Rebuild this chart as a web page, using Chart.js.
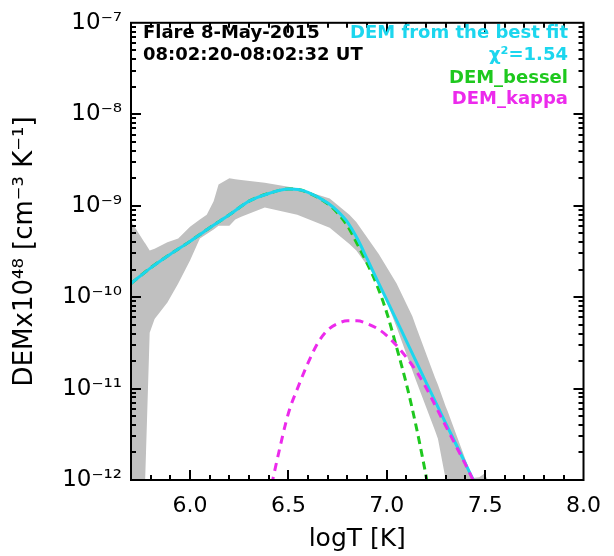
<!DOCTYPE html>
<html>
<head>
<meta charset="utf-8">
<script src="https://cdn.jsdelivr.net/npm/chart.js@4.4.1/dist/chart.umd.min.js"></script>
<style>
  html, body { margin: 0; padding: 0; background: #fff; }
</style>
</head>
<body>
<canvas id="demChart" width="614" height="556"></canvas>
<script>
// DEM x10^48 [cm^-3 K^-1] against logT [K]

// uncertainty band of the fit
const bandLogT = [5.7, 5.768, 5.772, 5.795, 5.82, 5.885, 5.94, 6.0, 6.05, 6.085, 6.12, 6.145,
  6.2, 6.23, 6.26, 6.38, 6.545, 6.71, 6.81, 6.845, 6.96, 7.05, 7.13, 7.15, 7.245, 7.26,
  7.3, 7.31, 7.37, 7.435, 7.47, 7.495, 7.53];
const bandUpper = [6.76e-10, 3.98e-10, 3.89e-10, 3.24e-10, 3.39e-10, 3.98e-10, 4.37e-10, 5.89e-10,
  7.08e-10, 7.94e-10, 1.12e-9, 1.70e-9, 2.00e-9, 1.95e-9, 1.91e-9, 1.78e-9, 1.55e-9, 1.20e-9,
  7.94e-10, 6.61e-10, 2.95e-10, 1.41e-10, 6.17e-11, 4.68e-11, 1.32e-11, 1.10e-11, 6.31e-12,
  5.62e-12, 2.51e-12, 1.05e-12, 1.07e-12, 1.17e-12, 8.9e-13];
const bandLower = [3.16e-13, 3.16e-13, 1.0e-12, 4.07e-11, 5.75e-11, 8.71e-11, 1.41e-10, 2.51e-10,
  4.37e-10, 4.90e-10, 5.50e-10, 6.03e-10, 6.03e-10, 7.08e-10, 7.59e-10, 9.55e-10, 7.94e-10,
  5.75e-10, 3.80e-10, 3.24e-10, 1.48e-10, 4.68e-11, 1.58e-11, 1.20e-11, 3.47e-12, 2.82e-12,
  1.0e-12, 3.16e-13, 3.16e-13, 3.16e-13, 3.16e-13, 3.16e-13, 3.16e-13];

// best fit
const fitLogT = [5.7, 5.8, 5.9, 6.0, 6.1, 6.2, 6.3, 6.4, 6.5, 6.55, 6.6, 6.7, 6.75, 6.8, 6.85,
  6.9, 6.95, 7.0, 7.1, 7.2, 7.3, 7.4, 7.44];
const fitDem = [1.41e-10, 2.09e-10, 2.95e-10, 4.07e-10, 5.75e-10, 7.94e-10, 1.12e-9, 1.36e-9,
  1.52e-9, 1.50e-9, 1.40e-9, 1.07e-9, 8.71e-10, 6.61e-10, 4.37e-10, 2.63e-10, 1.55e-10,
  9.33e-11, 3.31e-11, 1.17e-11, 4.17e-12, 1.51e-12, 1.0e-12];

// bessel component
const besselLogT = [5.7, 5.8, 5.9, 6.0, 6.1, 6.2, 6.3, 6.4, 6.5, 6.55, 6.6, 6.7, 6.75, 6.8,
  6.85, 6.9, 6.95, 7.0, 7.05, 7.1, 7.15, 7.2, 7.22];
const besselDem = [1.41e-10, 2.09e-10, 2.95e-10, 4.07e-10, 5.75e-10, 7.94e-10, 1.12e-9, 1.36e-9,
  1.52e-9, 1.50e-9, 1.39e-9, 1.05e-9, 8.32e-10, 6.03e-10, 3.80e-10, 2.34e-10, 1.35e-10,
  6.76e-11, 2.82e-11, 1.12e-11, 3.80e-12, 1.10e-12, 6.3e-13];

// kappa component
const kappaLogT = [6.40, 6.45, 6.5, 6.55, 6.6, 6.65, 6.7, 6.75, 6.8, 6.85, 6.9, 6.95, 7.0,
  7.05, 7.1, 7.15, 7.2, 7.25, 7.3, 7.35, 7.4, 7.45];
const kappaDem = [6.3e-13, 1.95e-12, 5.37e-12, 1.05e-11, 1.91e-11, 3.16e-11, 4.37e-11, 5.13e-11,
  5.50e-11, 5.50e-11, 5.13e-11, 4.57e-11, 3.80e-11, 2.95e-11, 2.19e-11, 1.55e-11, 1.02e-11,
  6.31e-12, 3.89e-12, 2.40e-12, 1.48e-12, 8.9e-13];

const xTickValues = [6.0, 6.5, 7.0, 7.5, 8.0];
const xTickLabels = ['6.0', '6.5', '7.0', '7.5', '8.0'];
const yTickValues = [1e-12, 1e-11, 1e-10, 1e-9, 1e-8, 1e-7];
const yTickLabels = ['10⁻¹²', '10⁻¹¹', '10⁻¹⁰', '10⁻⁹', '10⁻⁸', '10⁻⁷'];

const headerLines = ['Flare 8-May-2015', '08:02:20-08:02:32 UT'];
const legendLines = ['DEM from the best fit', 'χ²=1.54', 'DEM_bessel', 'DEM_kappa'];

const CYAN = '#1cd6ee';
const GREEN = '#1ec81e';
const MAGENTA = '#ec2aec';
const GRAY = '#c0c0c0';

const toPoints = (xs, ys) => xs.map((x, i) => ({x: x, y: ys[i]}));

// box around the plot with inward ticks on all four sides
const frameTicks = {
  id: 'frameTicks',
  afterDatasetsDraw(chart) {
    const {ctx, chartArea: a, scales: {x, y}} = chart;
    ctx.save();
    ctx.strokeStyle = '#000';
    ctx.lineWidth = 2;
    ctx.beginPath();
    for (let i = 58; i <= 79; i++) {
      const px = Math.round(x.getPixelForValue(i / 10));
      const len = i % 5 === 0 ? 10 : 5;
      ctx.moveTo(px, a.bottom); ctx.lineTo(px, a.bottom - len);
      ctx.moveTo(px, a.top); ctx.lineTo(px, a.top + len);
    }
    for (let e = -12; e < -7; e++) {
      for (let m = 1; m <= 9; m++) {
        const py = Math.round(y.getPixelForValue(m * Math.pow(10, e)));
        const len = m === 1 ? 10 : 5;
        ctx.moveTo(a.left, py); ctx.lineTo(a.left + len, py);
        ctx.moveTo(a.right, py); ctx.lineTo(a.right - len, py);
      }
    }
    ctx.stroke();
    ctx.strokeRect(a.left, a.top, a.right - a.left, a.bottom - a.top);
    ctx.restore();
  }
};

// flare info on the left, coloured curve names on the right
const notes = {
  id: 'notes',
  afterDraw(chart) {
    const ctx = chart.ctx;
    ctx.save();
    ctx.font = 'bold 18px "DejaVu Sans"';
    ctx.textBaseline = 'alphabetic';
    ctx.fillStyle = '#000';
    ctx.textAlign = 'left';
    ctx.fillText(headerLines[0], 143, 38);
    ctx.fillText(headerLines[1], 143, 60);
    ctx.textAlign = 'right';
    const colors = [CYAN, CYAN, GREEN, MAGENTA];
    const rows = [38, 60, 83, 104];
    legendLines.forEach((t, i) => {
      ctx.fillStyle = colors[i];
      ctx.fillText(t, 568, rows[i]);
    });
    ctx.restore();
  }
};

new Chart(document.getElementById('demChart'), {
  type: 'line',
  data: {
    datasets: [
      {
        data: toPoints(bandLogT, bandUpper),
        fill: '+1', backgroundColor: GRAY, borderWidth: 0, pointRadius: 0, order: 3
      },
      {
        data: toPoints(bandLogT, bandLower),
        fill: false, borderWidth: 0, pointRadius: 0, order: 4
      },
      {
        label: 'DEM_bessel',
        data: toPoints(besselLogT, besselDem),
        borderColor: GREEN, borderWidth: 3, borderDash: [8, 5], pointRadius: 0,
        fill: false, cubicInterpolationMode: 'monotone', order: 2
      },
      {
        label: 'DEM from the best fit',
        data: toPoints(fitLogT, fitDem),
        borderColor: CYAN, borderWidth: 3, pointRadius: 0,
        fill: false, cubicInterpolationMode: 'monotone', order: 1
      },
      {
        label: 'DEM_kappa',
        data: toPoints(kappaLogT, kappaDem),
        borderColor: MAGENTA, borderWidth: 3, borderDash: [8, 6], pointRadius: 0,
        fill: false, cubicInterpolationMode: 'monotone', order: 0
      }
    ]
  },
  options: {
    responsive: false,
    animation: false,
    events: [],
    layout: {padding: {left: 0, top: 15, right: 23, bottom: 0}},
    plugins: {legend: {display: false}, tooltip: {enabled: false}},
    scales: {
      x: {
        type: 'linear', min: 5.7, max: 8.0,
        grid: {display: false, drawTicks: false},
        border: {display: false},
        afterBuildTicks: s => { s.ticks = xTickValues.map(v => ({value: v})); },
        afterFit: s => { s.height = 76; },
        ticks: {
          autoSkip: false, maxRotation: 0, padding: 13, color: '#000',
          font: {family: 'DejaVu Sans', size: 22},
          callback: (v, i) => xTickLabels[i]
        },
        title: {
          display: true, text: 'logT [K]', color: '#000',
          font: {family: 'DejaVu Sans', size: 25},
          padding: {top: 0, bottom: 2}
        }
      },
      y: {
        type: 'logarithmic', min: 1e-12, max: 1e-7,
        grid: {display: false, drawTicks: false},
        border: {display: false},
        afterBuildTicks: s => { s.ticks = yTickValues.map(v => ({value: v})); },
        afterFit: s => { s.width = 131; },
        ticks: {
          autoSkip: false, padding: 9, color: '#000',
          font: {family: 'DejaVu Sans', size: 23},
          callback: (v, i) => yTickLabels[i]
        },
        title: {
          display: true, text: 'DEMx10⁴⁸ [cm⁻³ K⁻¹]', color: '#000',
          font: {family: 'DejaVu Sans', size: 26},
          padding: {top: 10, bottom: 0}
        }
      }
    }
  },
  plugins: [frameTicks, notes]
});
</script>
</body>
</html>
